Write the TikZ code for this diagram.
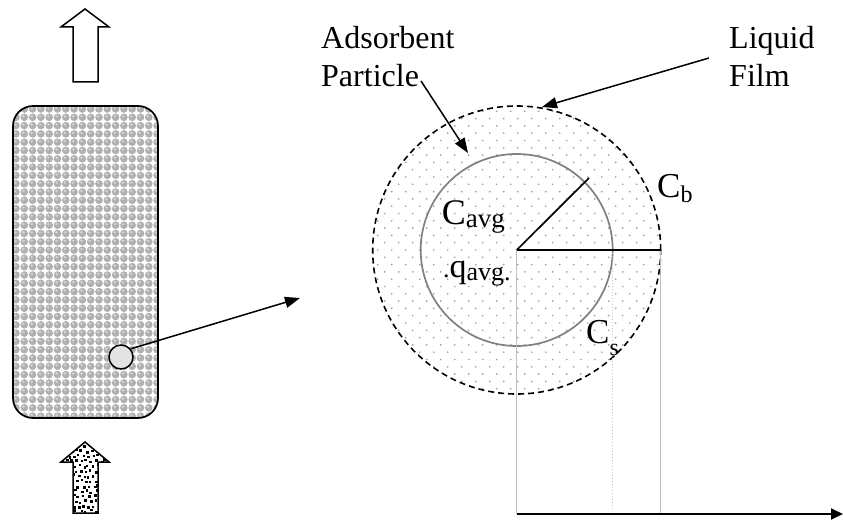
\documentclass[tikz,border=0pt]{standalone}
\usepackage{fontspec}
\setmainfont{Liberation Serif}
\usetikzlibrary{arrows.meta,calc}
\newcommand{\fsz}[1]{\fontsize{#1}{#1}\selectfont}
\begin{document}
\begin{tikzpicture}[x=1pt,y=-1pt,
  lbl/.style={inner sep=0pt, anchor=base west, font=\fontsize{32}{38}\selectfont},
  pointer/.style={line width=1.5pt, -{Triangle[length=15pt,width=11pt]}},
  blockarrow/.style={line width=1.5pt, line join=miter},
  guide/.style={draw=gray!50, line width=1.1pt},
  radius/.style={line width=1.7pt}
]
\useasboundingbox (0,0) rectangle (843,521);

% ---------- column ----------
\begin{scope}
  \clip[rounded corners=20pt] (13,106) rectangle (158,418);
  \fill[white] (13,106) rectangle (158,418);
  \foreach \j in {0,...,38} {
    \foreach \i in {0,...,18} {
      \pgfmathsetmacro\xx{16+8.3*\i}
      \pgfmathsetmacro\yy{109+8.3*\j}
      \fill[gray!62] (\xx,\yy) circle (3.8pt);
      \fill[gray!35] (\xx-0.9,\yy-1.1) circle (1.5pt);
    }
  }
\end{scope}
\node[draw, line width=1.7pt, rounded corners=20pt, minimum width=145pt, minimum height=312pt, inner sep=0pt] (column) at (85.5,262) {};
\node[circle, draw, line width=1.5pt, fill=gray!22, minimum size=24pt, inner sep=0pt] (blob) at (121,357) {};

% ---------- outlet arrow (hollow) ----------
\draw[blockarrow, fill=white] (85,9) -- (109,27) -- (98,27) -- (98,82) -- (73,82) -- (73,27) -- (61,27) -- cycle;

% ---------- inlet arrow (dotted) ----------
\begin{scope}
  \clip (85,442) -- (109,462) -- (98,462) -- (98,513) -- (73,513) -- (73,462) -- (61,462) -- cycle;
  \fill[white] (60,440) rectangle (110,515);
  \pgfmathsetseed{11}
  \foreach \j in {0,...,14} {
    \foreach \i in {0,...,10} {
      \pgfmathsetmacro\rx{60+5*\i+2.5*Mod(\j,2)+1.6*rand}
      \pgfmathsetmacro\ry{440+5*\j+1.6*rand}
      \fill[black] (\rx,\ry) rectangle (\rx+2.5,\ry+2.5);
    }
  }
\end{scope}
\draw[blockarrow] (85,442) -- (109,462) -- (98,462) -- (98,513) -- (73,513) -- (73,462) -- (61,462) -- cycle;

% ---------- zoom arrow ----------
\coordinate (zoomtip) at (300,298);
\draw[pointer] (blob.40) -- (zoomtip);

% ---------- particle ----------
\coordinate (ctr) at (516.7,250);
\begin{scope}
  \clip (ctr) circle (144pt);
  \foreach \j in {-20,...,20} {
    \foreach \i in {-11,...,11} {
      \pgfmathsetmacro\xx{516.7+14*\i+7*Mod(\j,2)+1}
      \pgfmathsetmacro\yy{250+7.3*\j}
      \fill[gray!75] (\xx,\yy) circle (0.95pt);
    }
  }
\end{scope}
\node[circle, draw=gray, line width=1.7pt, minimum size=192pt, inner sep=0pt] (particle) at (ctr) {};
\node[circle, draw, dash pattern=on 6pt off 4pt, line width=1.6pt, minimum size=288pt, inner sep=0pt] (film) at (ctr) {};

% ---------- axis and guide lines ----------
\coordinate (ax0) at (516.7,514);
\coordinate (ax1) at (843,514);
\coordinate (rb) at (660.7,250);
\coordinate (rs) at (612.7,250);
\coordinate (rtip) at (589,178);
\draw[guide] (ctr) -- (ax0);
\draw[guide] (rb) -- (rb |- ax0);
\draw[draw=gray!45, line width=1pt, dotted] (rs) -- ($(rs |- ax0)+(0,-3)$);
\draw[radius] (ctr) -- (rtip);
\draw[radius] (ctr) -- (rb);
\draw[line width=1.8pt, -{Triangle[length=12pt,width=11pt]}] (ax0) -- (ax1);

% ---------- labels ----------
\node[lbl] (adsA) at (321,49) {Adsorbent};
\node[lbl] (adsB) at (321,87) {Particle};
\node[lbl] (liqA) at (729,49) {Liquid};
\node[lbl] (liqB) at (729,87) {Film};
\coordinate (pa0) at (421,81);
\coordinate (pa1) at (468,153);
\coordinate (lf0) at (709,58);
\coordinate (lf1) at (542,107);
\draw[pointer] (pa0) -- (pa1);
\draw[pointer] (lf0) -- (lf1);

\node[inner sep=0pt, anchor=base west] (cavg) at (441.7,225) {\fsz{36}C\fsz{27}\raisebox{-3pt}{avg}};
\node[inner sep=0pt, anchor=base west] (qavg) at (443,278) {\fsz{26}.\fsz{34}q\fsz{26}\raisebox{-3pt}{avg.}};
\node[inner sep=0pt, anchor=base west] (cb) at (657,198) {\fsz{35}C\fsz{24}\raisebox{-5pt}{b}};
\node[inner sep=0pt, anchor=base west] (cs) at (586,343) {\fsz{35}C\fsz{24}\raisebox{-12pt}{s}};
\end{tikzpicture}
\end{document}
